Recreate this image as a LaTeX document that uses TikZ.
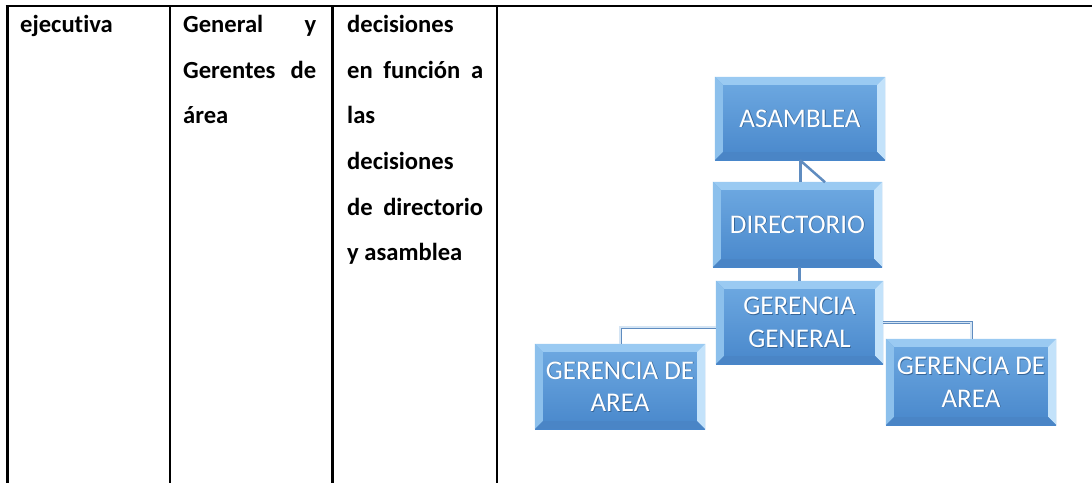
\documentclass[tikz,border=0pt]{standalone}
\usepackage{fontspec}
\setmainfont{Carlito}[RawFeature=-liga]
\usetikzlibrary{calc}
\definecolor{facetop}{HTML}{6FAAE2}
\definecolor{facebot}{HTML}{4887CB}
\definecolor{bvtop}{HTML}{9ACAF2}
\definecolor{bvleft}{HTML}{8CC0EC}
\definecolor{bvright}{HTML}{C3E2FA}
\definecolor{bvbot}{HTML}{4A85C6}
\definecolor{lnk}{HTML}{5F8CC0}
\definecolor{lnklight}{HTML}{D5E5F4}
\tikzset{
  cell/.style={anchor=base west, inner sep=0pt, font=\fontsize{24.6}{45.5}\selectfont\bfseries},
  rule/.style={draw=black, line width=2pt},
  thickrule/.style={draw=black, line width=3pt},
  face/.style={rectangle, inner sep=0pt, top color=facetop, bottom color=facebot, draw=none},
  otext/.style={inner sep=0pt, text=white, align=center, font=\fontsize{27}{32.5}\selectfont},
  stext/.style={inner sep=0pt, text=facebot!75!black, align=center, font=\fontsize{27}{32.5}\selectfont},
  solidlink/.style={draw=lnk, line width=3pt},
  dbllink/.style={draw=lnk, line width=0.8pt, double=lnklight, double distance=1.4pt}
}
\newcommand\orgbox[6]{%
  \node[face, minimum width=#4, minimum height=#5] (#1) at (#2,#3) {};
  \fill[bvtop] (#1.north west) -- (#1.north east) -- ($(#1.north east)+(-8pt,-8pt)$) -- ($(#1.north west)+(8pt,-8pt)$) -- cycle;
  \fill[bvleft] (#1.north west) -- ($(#1.north west)+(8pt,-8pt)$) -- ($(#1.south west)+(8pt,8pt)$) -- (#1.south west) -- cycle;
  \fill[bvright] (#1.north east) -- ($(#1.north east)+(-8pt,-8pt)$) -- ($(#1.south east)+(-8pt,8pt)$) -- (#1.south east) -- cycle;
  \fill[bvbot] (#1.south west) -- ($(#1.south west)+(8pt,8pt)$) -- ($(#1.south east)+(-8pt,8pt)$) -- (#1.south east) -- cycle;
  \node[stext] (#1-s) at ($(#1.center)+(0.8pt,-0.8pt)$) {#6};
  \node[otext] (#1-t) at (#1.center) {#6};
}
\begin{document}
\begin{tikzpicture}[x=1pt,y=-1pt]
\useasboundingbox (0,0) rectangle (1092,483);
\fill[white] (0,0) rectangle (1092,483);
% table rules
\coordinate (tl) at (5.5,6);
\coordinate (tr) at (1092,6);
\coordinate (c1t) at (7,6);   \coordinate (c1b) at (7,483);
\coordinate (c2t) at (170,6); \coordinate (c2b) at (170,483);
\coordinate (c3t) at (332,6); \coordinate (c3b) at (332,483);
\coordinate (c4t) at (497,6); \coordinate (c4b) at (497,483);
\draw[rule] (tl) -- (tr);
\draw[thickrule] (c1t) -- (c1b);
\draw[rule] (c2t) -- (c2b);
\draw[thickrule] (c3t) -- (c3b);
\draw[rule] (c4t) -- (c4b);
% column 1
\node[cell] (a1) at (20,32) {ejecutiva};
% column 2
\node[cell] (b1) at (183,32) {\makebox[133pt][s]{General y}};
\node[cell] (b2) at (183,78) {\makebox[133pt][s]{Gerentes de}};
\node[cell] (b3) at (183,123) {área};
% column 3
\node[cell] (d1) at (347,32) {decisiones};
\node[cell] (d2) at (347,78) {\makebox[136pt][s]{en función a}};
\node[cell] (d3) at (347,123) {las};
\node[cell] (d4) at (347,169) {decisiones};
\node[cell] (d5) at (347,215) {\makebox[136pt][s]{de directorio}};
\node[cell] (d6) at (347,260) {y asamblea};
% org chart
\orgbox{asam}{800}{118.5}{170pt}{83pt}{ASAMBLEA}
\orgbox{dir}{797.5}{224.5}{169pt}{85pt}{DIRECTORIO}
\orgbox{gg}{799.5}{322.5}{167pt}{83pt}{GERENCIA\\GENERAL}
\orgbox{ga1}{620}{386.5}{170pt}{85pt}{GERENCIA DE\\AREA}
\orgbox{ga2}{971}{382}{170pt}{86pt}{GERENCIA DE\\AREA}
% connectors
\draw[solidlink] (asam.south) -- (asam.south |- dir.north);
\draw[solidlink, line width=2.5pt] (asam.south) -- ($(asam.south)+(25pt,-22pt)$);
\draw[solidlink] (gg.north) -- (gg.north |- dir.south);
\draw[dbllink] ($(gg.west)+(0,-4.5pt)$) -| (ga1.north);
\draw[dbllink] (gg.east) -| (ga2.north);
\end{tikzpicture}
\end{document}
